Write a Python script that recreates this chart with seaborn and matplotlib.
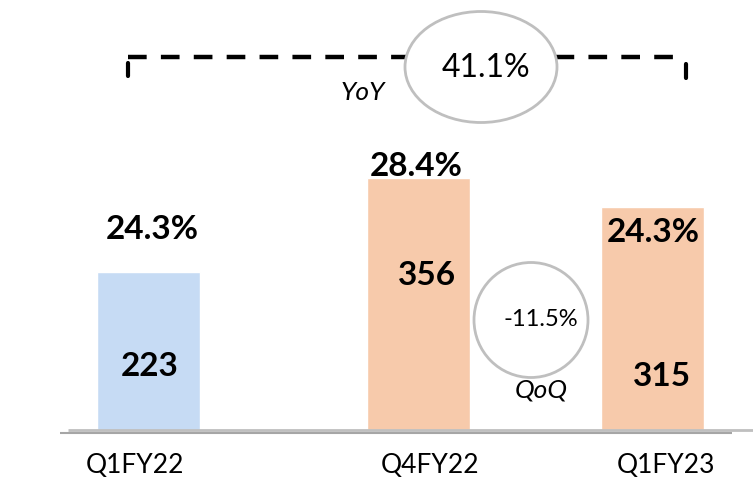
import matplotlib
matplotlib.use("Agg")
import matplotlib.pyplot as plt
from matplotlib.patches import Ellipse
import seaborn as sns
import pandas as pd

# ---- data ----
categories = ["Q1FY22", "Q4FY22", "Q1FY23"]
values = [223, 356, 315]
margins = ["24.3%", "28.4%", "24.3%"]
yoy_label = "YoY"
yoy_change = "41.1%"
qoq_label = "QoQ"
qoq_change = "-11.5%"

# ---- layout (pixel-based x positions) ----
positions = [148.5, 419, 653]
label_positions = [135.5, 430.5, 666.5]
colors = ["#C6DBF4", "#F7CAAB", "#F7CAAB"]

sns.set_theme(style="white")
plt.rcParams["font.family"] = ["Lato", "DejaVu Sans"]

W, H = 753, 483
fig = plt.figure(figsize=(W / 100, H / 100), dpi=100)
base_px = 430          # baseline y (pixels from top)
bottom_px = 443        # axes bottom (pixels from top)
ax = fig.add_axes([0, (H - bottom_px) / H, 1, bottom_px / H])
s = 0.708              # px per data unit

def ypx(y):
    return (base_px - y) / s

df = pd.DataFrame({"pos": positions, "value": values, "cat": categories})
sns.barplot(data=df, x="pos", y="value", hue="cat", palette=colors,
            native_scale=True, dodge=False, width=103 / 234, legend=False,
            saturation=1, ax=ax)

ax.set_xlim(0, W)
ax.set_ylim(ypx(bottom_px), ypx(0))
for sp in ax.spines.values():
    sp.set_visible(False)
ax.set_yticks([])
ax.set_xticks(label_positions)
ax.set_xticklabels(categories, fontsize=19, color="black")
ax.tick_params(axis="x", length=0, pad=7)
ax.set_xlabel("")
ax.set_ylabel("")

# baselines
ax.plot([68, W], [0, 0], color="#BFBFBF", lw=2, solid_capstyle="butt", zorder=3)
ax.plot([60, 732], [ypx(433), ypx(433)], color="#A6A6A6", lw=1.5,
        solid_capstyle="butt", zorder=3)

# percent labels above bars and value labels inside bars
pct_xy = [(152.5, 229.5), (416, 167), (653, 233)]
val_xy = [(149.5, 366.5), (427.5, 275.5), (662, 376.5)]
for m, v, (px, py), (vx, vy) in zip(margins, values, pct_xy, val_xy):
    ax.text(px, ypx(py), m, ha="center", va="center", fontsize=24,
            fontweight="bold", color="black", zorder=5)
    ax.text(vx, ypx(vy), str(v), ha="center", va="center", fontsize=24,
            fontweight="bold", color="black", zorder=5)

# YoY bracket
ax.plot([128, 686], [ypx(57), ypx(57)], color="black", lw=3.2,
        linestyle=(0, (4.2, 3.2)), zorder=4)
ax.plot([128, 128], [ypx(63), ypx(76)], color="black", lw=3, zorder=4)
ax.plot([686, 686], [ypx(64), ypx(78)], color="black", lw=3, zorder=4)
ax.add_patch(Ellipse((481, ypx(67)), 152, 111 / s, facecolor="white",
                     edgecolor="#BFBFBF", lw=2, zorder=6))
ax.text(486, ypx(68), yoy_change, ha="center", va="center", fontsize=23,
        color="black", zorder=7)
ax.text(363, ypx(92), yoy_label, ha="center", va="center", fontsize=19,
        style="italic", color="black", zorder=7)

# QoQ bubble
ax.add_patch(Ellipse((531, ypx(320)), 114, 115 / s, facecolor="white",
                     edgecolor="#BFBFBF", lw=2, zorder=6))
ax.text(541, ypx(320), qoq_change, ha="center", va="center", fontsize=17,
        color="black", zorder=7)
ax.text(541, ypx(390), qoq_label, ha="center", va="center", fontsize=19,
        style="italic", color="black", zorder=7)

fig.savefig("out.png", dpi=100, facecolor="white")
